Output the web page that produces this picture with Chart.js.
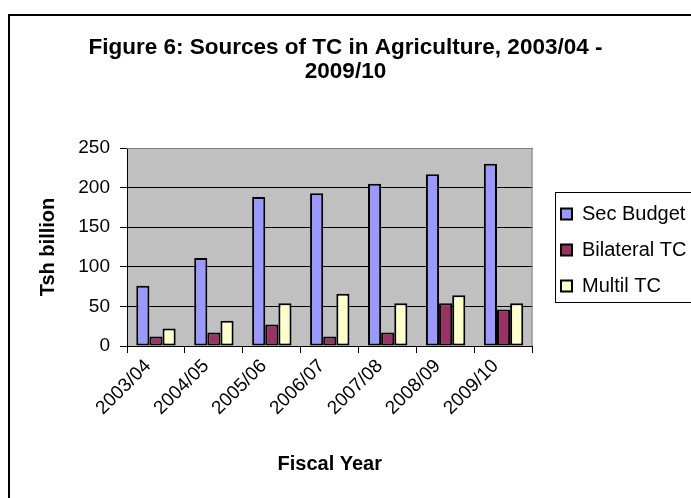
<!DOCTYPE html>
<html>
<head>
<meta charset="utf-8">
<script src="https://cdn.jsdelivr.net/npm/chart.js@4"></script>
<style>
  html, body { margin: 0; padding: 0; background: #fff; }
  #wrap { width: 691px; height: 498px; position: relative; }
</style>
</head>
<body>
<div id="wrap"><canvas id="c" width="691" height="498"></canvas></div>
<script>
const categories = ["2003/04", "2004/05", "2005/06", "2006/07", "2007/08", "2008/09", "2009/10"];
const secBudget = [76, 111, 188, 193, 205, 217, 230];
const bilateralTC = [12, 17, 27, 12, 17, 54, 46];
const multilTC = [22, 32, 54, 66, 54, 64, 54];
const seriesNames = ["Sec Budget", "Bilateral TC", "Multil TC"];
const titleLines = ["Figure 6: Sources of TC in Agriculture, 2003/04 -", "2009/10"];
const yTitle = "Tsh billion";
const xTitle = "Fiscal Year";

const FONT = "'Liberation Sans', Arial, Helvetica, sans-serif";

const decor = {
  id: 'decor',
  beforeDraw(chart) {
    const {ctx, chartArea: a} = chart;
    ctx.save();
    ctx.fillStyle = '#C0C0C0';
    ctx.fillRect(a.left, a.top, a.right - a.left, a.bottom - a.top);
    ctx.restore();
  },
  afterLayout(chart) {
    const lg = chart.legend;
    if (!lg) return;
    lg.left = 545; lg.right = 745; lg.width = 200;
    lg.top = 188; lg.bottom = 498; lg.height = 310;
  },
  afterDraw(chart) {
    const {ctx, chartArea: a} = chart;
    ctx.save();
    // plot area border (top/right)
    ctx.strokeStyle = '#808080';
    ctx.lineWidth = 1;
    ctx.beginPath();
    ctx.moveTo(a.left, a.top + 0.5);
    ctx.lineTo(a.right - 0.5, a.top + 0.5);
    ctx.lineTo(a.right - 0.5, a.bottom);
    ctx.stroke();
    // legend frame
    ctx.strokeStyle = '#000';
    ctx.lineWidth = 1;
    ctx.strokeRect(555.5, 192.5, 200, 110);
    // outer chart frame
    ctx.lineWidth = 2;
    ctx.strokeRect(9, 15, 720, 520);
    ctx.restore();
  }
};

const mk = (label, data, color) => ({
  label, data,
  backgroundColor: color,
  borderColor: '#000',
  borderWidth: 2,
  borderSkipped: false,
  barPercentage: 1.0,
  categoryPercentage: 0.68
});

new Chart(document.getElementById('c'), {
  type: 'bar',
  data: {
    labels: categories,
    datasets: [
      mk(seriesNames[0], secBudget, '#9999FF'),
      mk(seriesNames[1], bilateralTC, '#993366'),
      mk(seriesNames[2], multilTC, '#FFFFCC')
    ]
  },
  options: {
    responsive: false,
    animation: false,
    devicePixelRatio: 1,
    layout: { padding: { left: 7, right: 7, top: 0, bottom: 0 } },
    plugins: {
      title: {
        display: true,
        text: titleLines,
        color: '#000',
        font: { family: FONT, size: 22.5, weight: 'bold', lineHeight: 1.067 },
        padding: { top: 36, bottom: 64 }
      },
      legend: {
        display: true,
        position: 'right',
        align: 'start',
        maxWidth: 158,
        labels: {
          color: '#000',
          font: { family: FONT, size: 20 },
          boxWidth: 11,
          boxHeight: 11,
          padding: 16
        }
      },
      tooltip: { enabled: false }
    },
    scales: {
      x: {
        grid: { display: true, drawOnChartArea: false, drawTicks: true, tickLength: 7, color: '#000', lineWidth: 1 },
        border: { display: true, color: '#000', width: 1 },
        ticks: { color: '#000', font: { family: FONT, size: 19 }, minRotation: 45, maxRotation: 45, padding: 2, labelOffset: -8 },
        title: { display: true, text: xTitle, color: '#000', font: { family: FONT, size: 20, weight: 'bold' }, padding: { top: 0, bottom: 22 } },
        afterFit(s) { s.height = 152; }
      },
      y: {
        min: 0, max: 250,
        ticks: { stepSize: 50, color: '#000', font: { family: FONT, size: 19 }, padding: 10 },
        grid: { color: '#000', lineWidth: 1, tickLength: 7, drawTicks: true },
        border: { display: true, color: '#000', width: 1 },
        title: { display: true, text: yTitle, color: '#000', font: { family: FONT, size: 20, weight: 'bold' }, padding: { top: 29.5, bottom: 0 } },
        afterFit(s) { s.width = 120; }
      }
    }
  },
  plugins: [decor]
});
</script>
</body>
</html>
